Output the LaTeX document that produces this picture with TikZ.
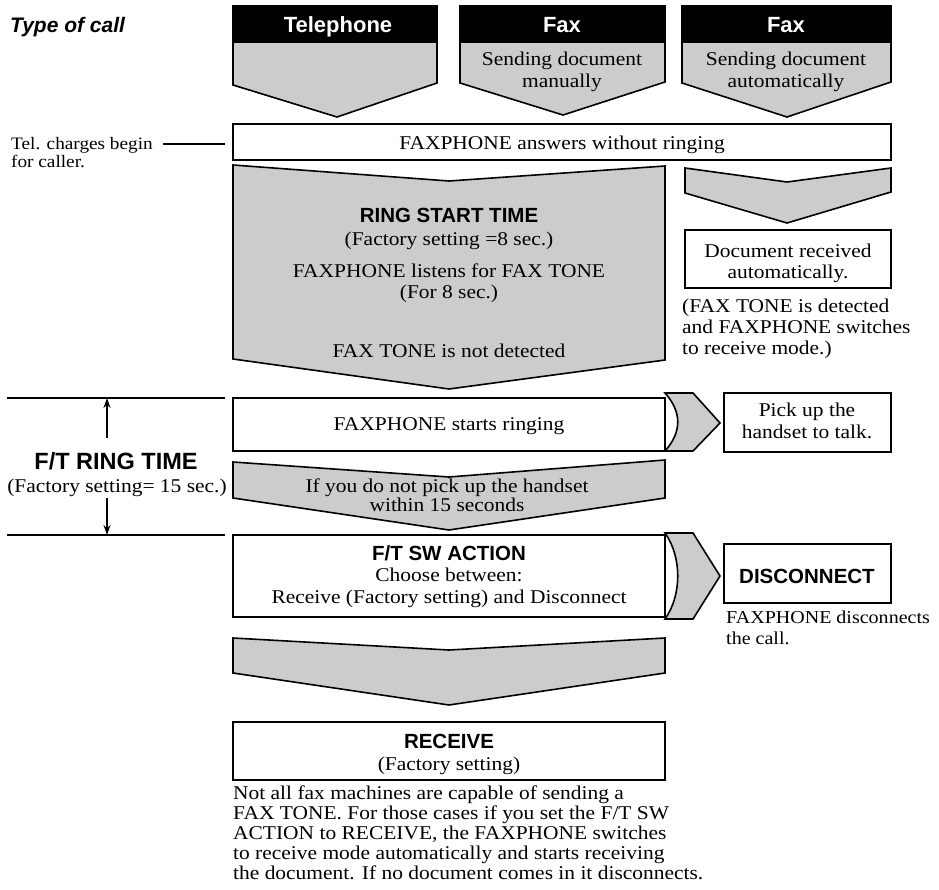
\documentclass[tikz,border=0pt]{standalone}
\usepackage{fontspec}
\setmainfont[FakeStretch=1.1]{Liberation Serif}
\newfontfamily\hsans{Liberation Sans}
\usetikzlibrary{arrows.meta}
\definecolor{fillg}{gray}{0.8}
\newcommand\txsz{\fontsize{19.5}{22}\selectfont}
\newcommand\smsz{\fontsize{17.5}{20}\selectfont}
\newcommand\hdsz{\hsans\bfseries\fontsize{22}{24}\selectfont}
\newcommand\bdsz{\hsans\bfseries\fontsize{20.5}{22}\selectfont}
\begin{document}
\begin{tikzpicture}[x=1pt,y=-1pt,
  outl/.style={draw=black, line width=1.6pt, line join=miter},
  wbox/.style={outl, fill=white},
  gshape/.style={outl, fill=fillg},
  blk/.style={draw=black, line width=1.6pt, fill=black},
  txt/.style={inner sep=0pt, anchor=base, font=\txsz},
  txtw/.style={inner sep=0pt, anchor=base west, font=\txsz},
  hdr/.style={inner sep=0pt, anchor=base, font=\hdsz, text=white},
  bold/.style={inner sep=0pt, anchor=base, font=\bdsz},
  thin/.style={draw=black, line width=1.2pt},
  arr/.style={thin, -{Stealth[length=10pt,width=7pt]}}
]
\useasboundingbox (0,0) rectangle (939,889);

% ---------- top: type of call ----------
\node[inner sep=0pt, anchor=base west, font=\hsans\bfseries\itshape\fontsize{21}{24}\selectfont] (typecall) at (10,32) {Type of call};

% Telephone
\path[gshape] (233,6) -- (437,6) -- (437,83) -- (337,117) -- (233,85) -- cycle;
\path[blk] (233,6) rectangle (437,42);
\node[hdr] (tel) at (338,32) {Telephone};

% Fax manual
\path[gshape] (460,6) -- (665,6) -- (665,82) -- (563,115) -- (460,83) -- cycle;
\path[blk] (460,6) rectangle (665,42);
\node[hdr] (fax1) at (562,32) {Fax};
\node[txt] (fax1a) at (562,65) {Sending document};
\node[txt] (fax1b) at (562,87) {manually};

% Fax automatic
\path[gshape] (682,6) -- (891,6) -- (891,82) -- (787,117) -- (682,83) -- cycle;
\path[blk] (682,6) rectangle (891,42);
\node[hdr] (fax2) at (786,32) {Fax};
\node[txt] (fax2a) at (786,65) {Sending document};
\node[txt] (fax2b) at (786,87) {automatically};

% answers without ringing
\path[wbox] (233,124) rectangle (891,160);
\node[txt] (answer) at (562,149) {FAXPHONE answers without ringing};
\coordinate (answerW) at (225,144);
\coordinate (tnL) at (163,144);

% Tel. charges note
\node[inner sep=0pt, anchor=base west, font=\smsz] (telnote1) at (11,149) {Tel. charges begin};
\node[inner sep=0pt, anchor=base west, font=\smsz] (telnote2) at (11,167) {for caller.};
\draw[thin] (tnL) -- (answerW);

% ---------- RING START TIME ----------
\path[gshape] (233,165) -- (449,181) -- (665,166) -- (665,360) -- (449,389) -- (233,359) -- cycle;
\node[bold] (ringst) at (449,222) {RING START TIME};
\node[txt] (ring2) at (449,245) {(Factory setting =8 sec.)};
\node[txt] (ring3) at (449,277) {FAXPHONE listens for FAX TONE};
\node[txt] (ring4) at (449,298) {(For 8 sec.)};
\node[txt] (ring5) at (449,357) {FAX TONE is not detected};

% right chevron + document received
\path[gshape] (685,168) -- (787,182) -- (891,168) -- (891,192) -- (787,223) -- (685,193) -- cycle;
\path[wbox] (685,230) rectangle (891,288);
\node[txt] (docr1) at (788,257) {Document received};
\node[txt] (docr2) at (788,278) {automatically.};
\node[txtw] (det1) at (682,312) {(FAX TONE is detected};
\node[txtw] (det2) at (682,333) {and FAXPHONE switches};
\node[txtw] (det3) at (682,354) {to receive mode.)};

% ---------- F/T RING TIME annotation ----------
\coordinate (rtL1) at (7,398);  \coordinate (rtR1) at (225,398);
\coordinate (rtL2) at (7,535);  \coordinate (rtR2) at (225,535);
\draw[thin] (rtL1) -- (rtR1);
\draw[thin] (rtL2) -- (rtR2);
\node[inner sep=0pt, anchor=base, font=\hsans\bfseries\fontsize{23.5}{26}\selectfont] (fttime) at (116,469) {F/T RING TIME};
\node[txt] (ftfac) at (117,492) {(Factory setting= 15 sec.)};
\coordinate (arU0) at (107,438); \coordinate (arU1) at (107,398);
\coordinate (arD0) at (107,498); \coordinate (arD1) at (107,535);
\draw[arr] (arU0) -- (arU1);
\draw[arr] (arD0) -- (arD1);

% starts ringing
\path[wbox] (233,398) rectangle (665,451);
\node[txt] (ringing) at (449,430) {FAXPHONE starts ringing};
\path[gshape] (665,393) -- (693,393) -- (720,423) -- (693,451) -- (665,451)
   .. controls (682,432) and (682,412) .. (665,393) -- cycle;
\path[wbox] (724,393) rectangle (891,452);
\node[txt] (pick1) at (807,416) {Pick up the};
\node[txt] (pick2) at (807,438) {handset to talk.};

% if you do not pick up
\path[gshape] (233,462) -- (449,477) -- (665,460) -- (665,498) -- (449,530) -- (233,498) -- cycle;
\node[txt] (ifnot1) at (447,492) {If you do not pick up the handset};
\node[txt] (ifnot2) at (447,511) {within 15 seconds};

% F/T SW ACTION
\path[wbox] (233,535) rectangle (665,617);
\node[bold] (swact) at (449,560) {F/T SW ACTION};
\node[txt] (sw2) at (449,581) {Choose between:};
\node[txt] (sw3) at (449,603) {Receive (Factory setting) and Disconnect};
\path[gshape] (665,533) -- (693,533) -- (720,576) -- (693,619) -- (665,619)
   .. controls (682,595) and (682,557) .. (665,533) -- cycle;
\path[wbox] (724,544) rectangle (891,603);
\node[bold] (disc) at (807,583) {DISCONNECT};
\node[inner sep=0pt, anchor=base west, font=\fontsize{18.2}{21}\selectfont] (disc1) at (726,623) {FAXPHONE disconnects};
\node[inner sep=0pt, anchor=base west, font=\fontsize{18.2}{21}\selectfont] (disc2) at (726,644) {the call.};

% bottom chevron
\path[gshape] (233,638) -- (449,650) -- (665,638) -- (665,673) -- (449,705) -- (233,673) -- cycle;

% RECEIVE
\path[wbox] (233,722) rectangle (665,780);
\node[bold] (recv) at (449,748) {RECEIVE};
\node[txt] (recv2) at (449,770) {(Factory setting)};
\node[txtw] (p1) at (233,799) {Not all fax machines are capable of sending a};
\node[txtw] (p2) at (233,819) {FAX TONE. For those cases if you set the F/T SW};
\node[txtw] (p3) at (233,839) {ACTION to RECEIVE, the FAXPHONE switches};
\node[txtw] (p4) at (233,859) {to receive mode automatically and starts receiving};
\node[txtw] (p5) at (233,879) {the document. If no document comes in it disconnects.};
\end{tikzpicture}
\end{document}
